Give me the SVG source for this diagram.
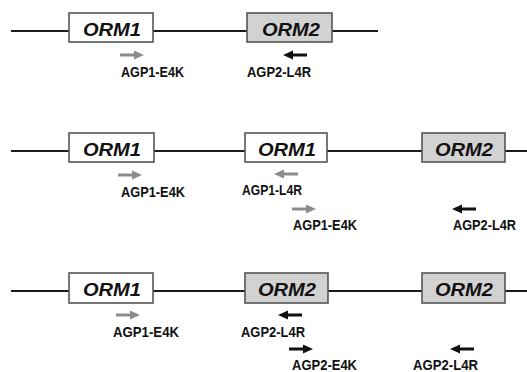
<svg xmlns="http://www.w3.org/2000/svg" xmlns:xlink="http://www.w3.org/1999/xlink" width="527" height="372" viewBox="0 0 527 372">
<style>
.bb{stroke:#1a1a1a;stroke-width:2;fill:none}
.box{stroke:#555;stroke-width:1.6}
.b1{fill:#ffffff}
.b2{fill:#d2d2d2}
.gt{font-family:"Liberation Sans",Arial,sans-serif;font-weight:bold;font-style:italic;font-size:19px;fill:#111;text-anchor:middle}
.lb{font-family:"Liberation Sans",Arial,sans-serif;font-weight:bold;font-size:15px;fill:#111}
.g{fill:#8c8c8c}
.k{fill:#111}
</style>
<defs>
<path id="ar" d="M0,-1.5 H14 V-4.6 L24,0 L14,4.6 V1.5 H0 Z"/>
</defs>
<g id="connectors">
<line class="bb" x1="11" y1="31" x2="378" y2="31"/>
<line class="bb" x1="11" y1="151" x2="527" y2="151"/>
<line class="bb" x1="11" y1="291" x2="527" y2="291"/>
</g>
<g id="r1-orm1"><rect class="box b1" x="69" y="13" width="84" height="29"/><text class="gt" x="112" y="36" textLength="58" lengthAdjust="spacingAndGlyphs">ORM1</text></g>
<g id="r1-orm2"><rect class="box b2" x="247" y="13" width="85" height="29"/><text class="gt" x="291" y="36" textLength="58" lengthAdjust="spacingAndGlyphs">ORM2</text></g>
<g id="r2-orm1a"><rect class="box b1" x="69" y="133" width="85" height="29"/><text class="gt" x="112" y="156" textLength="58" lengthAdjust="spacingAndGlyphs">ORM1</text></g>
<g id="r2-orm1b"><rect class="box b1" x="245" y="133" width="82" height="29"/><text class="gt" x="287" y="156" textLength="58" lengthAdjust="spacingAndGlyphs">ORM1</text></g>
<g id="r2-orm2"><rect class="box b2" x="422" y="133" width="83" height="29"/><text class="gt" x="464" y="156" textLength="58" lengthAdjust="spacingAndGlyphs">ORM2</text></g>
<g id="r3-orm1"><rect class="box b1" x="69" y="273" width="84" height="30"/><text class="gt" x="112" y="296" textLength="58" lengthAdjust="spacingAndGlyphs">ORM1</text></g>
<g id="r3-orm2a"><rect class="box b2" x="245" y="273" width="83" height="30"/><text class="gt" x="287" y="296" textLength="58" lengthAdjust="spacingAndGlyphs">ORM2</text></g>
<g id="r3-orm2b"><rect class="box b2" x="422" y="273" width="83" height="30"/><text class="gt" x="464" y="296" textLength="58" lengthAdjust="spacingAndGlyphs">ORM2</text></g>

<g id="p1"><use href="#ar" class="g" transform="translate(120,55)"/><text class="lb" x="121" y="76.5" textLength="63" lengthAdjust="spacingAndGlyphs">AGP1-E4K</text></g>
<g id="p2"><use href="#ar" class="k" transform="translate(307,55) scale(-1,1)"/><text class="lb" x="247" y="76.5" textLength="64" lengthAdjust="spacingAndGlyphs">AGP2-L4R</text></g>

<g id="p3"><use href="#ar" class="g" transform="translate(118,175)"/><text class="lb" x="121" y="196.5" textLength="64" lengthAdjust="spacingAndGlyphs">AGP1-E4K</text></g>
<g id="p4"><use href="#ar" class="g" transform="translate(298,174) scale(-1,1)"/><text class="lb" x="242" y="195" textLength="60" lengthAdjust="spacingAndGlyphs">AGP1-L4R</text></g>
<g id="p5"><use href="#ar" class="g" transform="translate(292,209)"/><text class="lb" x="293" y="229.5" textLength="64" lengthAdjust="spacingAndGlyphs">AGP1-E4K</text></g>
<g id="p6"><use href="#ar" class="k" transform="translate(476,209) scale(-1,1)"/><text class="lb" x="453" y="229.5" textLength="63" lengthAdjust="spacingAndGlyphs">AGP2-L4R</text></g>

<g id="p7"><use href="#ar" class="g" transform="translate(116,315)"/><text class="lb" x="113" y="336.5" textLength="66" lengthAdjust="spacingAndGlyphs">AGP1-E4K</text></g>
<g id="p8"><use href="#ar" class="k" transform="translate(302,315) scale(-1,1)"/><text class="lb" x="241" y="336.5" textLength="64" lengthAdjust="spacingAndGlyphs">AGP2-L4R</text></g>
<g id="p9"><use href="#ar" class="k" transform="translate(289,349)"/><text class="lb" x="292" y="370" textLength="65" lengthAdjust="spacingAndGlyphs">AGP2-E4K</text></g>
<g id="p10"><use href="#ar" class="k" transform="translate(474,349) scale(-1,1)"/><text class="lb" x="413" y="370" textLength="65" lengthAdjust="spacingAndGlyphs">AGP2-L4R</text></g>
</svg>
